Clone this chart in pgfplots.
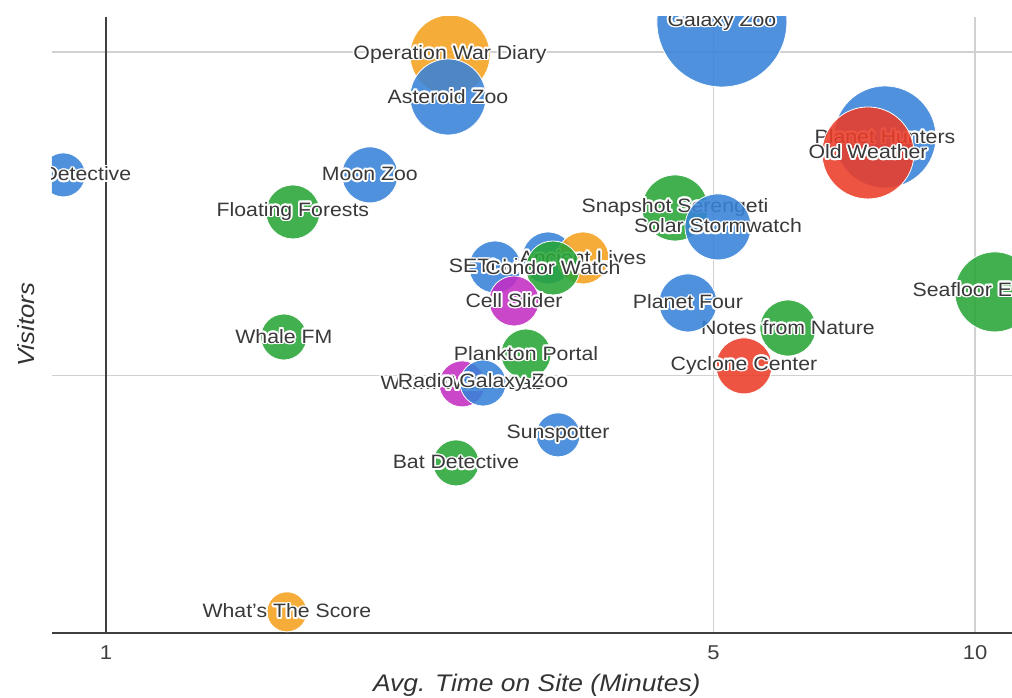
\documentclass[border=0pt]{standalone}
\usepackage{pgfplots}
\pgfplotsset{compat=1.18}
\usepackage{fontspec}
\setmainfont{Liberation Sans}[FakeStretch=1.1]
\usepackage{contour}
\contourlength{1.3pt}
\definecolor{cblue}{RGB}{55,130,215}
\definecolor{cgreen}{RGB}{40,165,55}
\definecolor{corange}{RGB}{245,160,30}
\definecolor{cred}{RGB}{235,60,40}
\definecolor{cpurple}{RGB}{195,45,195}
\definecolor{labcol}{RGB}{30,30,30}

% bubble: colour, radius (pt)
\pgfplotsset{
  bub/.style 2 args={
    only marks, mark=*,
    mark size=#2,
    mark options={fill=#1, draw=white, line width=0.6pt, fill opacity=0.88},
    point meta=explicit symbolic,
    nodes near coords={\contour{white}{\pgfplotspointmeta}},
    every node near coord/.append style={anchor=center, text=labcol,
      font=\fontsize{14.5}{16}\selectfont, inner sep=0pt},
  },
  bubnl/.style 2 args={
    only marks, mark=*,
    mark size=#2,
    mark options={fill=#1, draw=white, line width=0.6pt, fill opacity=0.88},
  },
}

\begin{document}
\begin{tikzpicture}
\path[use as bounding box] (-39pt,-48pt) rectangle (720pt,474.75pt);
\begin{axis}[
  at={(0,0)}, anchor=south west,
  scale only axis, width=720pt, height=462pt,
  xmode=log, ymode=log,
  xmin=0.8667, xmax=11.03,
  ymin=160.9, ymax=12823,
  axis lines*=left,
  x axis line style={draw=black!75, line width=1pt},
  y axis line style={draw=none},
  xtick={5,10}, xticklabels={5,10},
  extra x ticks={1}, extra x tick labels={1},
  extra x tick style={grid style={draw=black!75, line width=1pt}},
  ytick={1000,10000}, yticklabels={},
  minor xtick={}, minor ytick={},
  xmajorgrids, ymajorgrids,
  grid style={draw=black!18, line width=0.8pt},
  major tick length=0pt, minor tick length=0pt,
  tick style={draw=none},
  /pgf/number format/assume math mode=true,
  xticklabel style={anchor=center, yshift=-15pt, text=black!75,
     font=\fontsize{15}{17}\selectfont},
  xlabel={\itshape Avg. Time on Site (Minutes)},
  xlabel style={at={(axis description cs:0.505,0)}, anchor=center, yshift=-39pt,
     text=black!80, font=\fontsize{18}{20}\selectfont},
  ylabel={\itshape Visitors},
  ylabel style={at={(axis description cs:0,0.5)}, anchor=center, yshift=19.5pt,
     text=black!80, font=\fontsize{17.5}{19}\selectfont},
  clip marker paths=true,
]
% x = avg. time on site (minutes), y = visitors, [label]
\addplot[bub={cblue}{48.75pt}]   coordinates {(5.114,12377) [Galaxy Zoo]};
\addplot[bub={cblue}{38.25pt}]   coordinates {(7.878,5466) [Planet Hunters]};
\addplot[bub={cred}{34.5pt}]     coordinates {(7.532,4879) [Old Weather]};
\addplot[bub={corange}{30pt}]    coordinates {(2.488,9788) [Operation War Diary]};
\addplot[bub={cgreen}{30pt}]     coordinates {(10.54,1817) [Seafloor Explorer]};
\addplot[bub={cblue}{28.5pt}]    coordinates {(2.475,7263) [Asteroid Zoo]};
\addplot[bub={cgreen}{24.75pt}]  coordinates {(4.517,3300) [Snapshot Serengeti]};
\addplot[bub={cblue}{24.75pt}]   coordinates {(5.061,2884) [Solar Stormwatch]};
\addplot[bub={cgreen}{21pt}]     coordinates {(6.092,1406) [Notes from Nature]};
\addplot[bub={cblue}{21.75pt}]   coordinates {(4.674,1680) [Planet Four]};
\addplot[bub={cred}{21pt}]       coordinates {(5.422,1074) [Cyclone Center]};
\addplot[bub={cblue}{21pt}]      coordinates {(2.012,4174) [Moon Zoo]};
\addplot[bub={cgreen}{20.25pt}]  coordinates {(1.641,3208) [Floating Forests]};
\addplot[bubnl={cblue}{19.5pt}]  coordinates {(3.226,2313)};
\addplot[bub={cblue}{19.5pt}]    coordinates {(2.803,2170) [SETI Live]};
\addplot[bub={corange}{19.5pt}]  coordinates {(3.539,2313) [Ancient Lives]};
\addplot[bub={cgreen}{20.25pt}]  coordinates {(3.268,2154) [Condor Watch]};
\addplot[bub={cpurple}{18.75pt}] coordinates {(2.948,1704) [Cell Slider]};
\addplot[bub={cgreen}{18.75pt}]  coordinates {(3.043,1169) [Plankton Portal]};
\addplot[bub={cpurple}{17.25pt}] coordinates {(2.569,945) [Worm Watch Lab]};
\addplot[bub={cblue}{17.25pt}]   coordinates {(2.716,951) [Radio Galaxy Zoo]};
\addplot[bub={cgreen}{17.25pt}]  coordinates {(1.602,1319) [Whale FM]};
\addplot[bub={cgreen}{17.25pt}]  coordinates {(2.528,539) [Bat Detective]};
\addplot[bub={cblue}{16.5pt}]    coordinates {(3.313,658) [Sunspotter]};
\addplot[bub={cblue}{16.5pt}]    coordinates {(0.893,4174) [Disk Detective]};
\addplot[bub={corange}{15pt}]    coordinates {(1.615,187) [What's The Score]};
\end{axis}
\end{tikzpicture}
\end{document}
